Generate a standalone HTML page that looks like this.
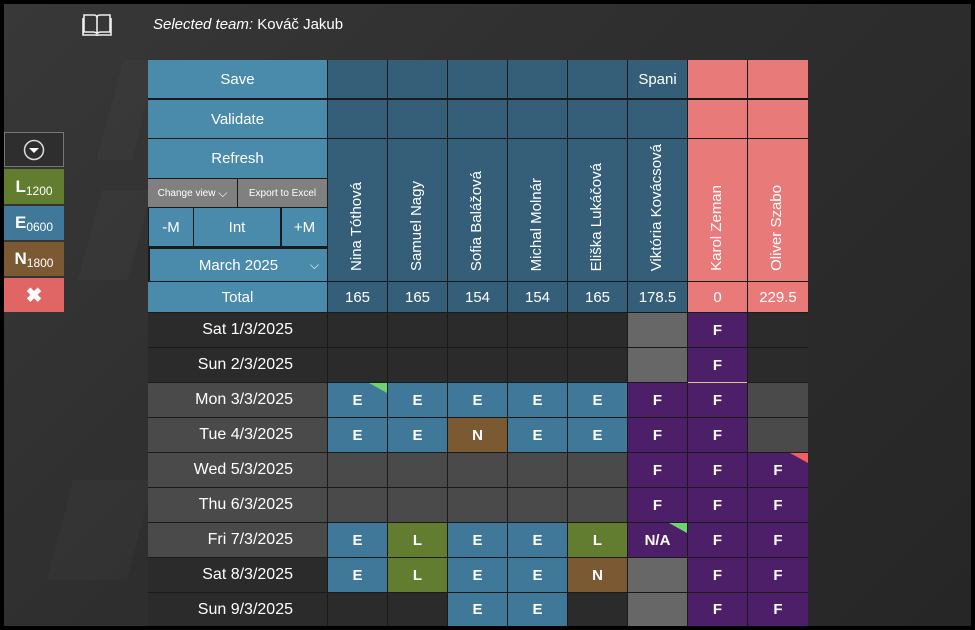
<!DOCTYPE html>
<html><head><meta charset="utf-8"><style>
body{margin:0;width:975px;height:630px;overflow:hidden;background:#000;font-family:"Segoe UI","Liberation Sans",sans-serif;}
#f{position:absolute;left:4px;top:4px;width:967px;height:622px;background:linear-gradient(135deg,#383838 0%,#2f2f2f 40%,#262626 100%);overflow:hidden}
.a{position:absolute;box-sizing:border-box;color:#fff;display:flex;align-items:center;justify-content:center;font-size:15px}
.lb{background:#4a8aab}.db{background:#355e79}.pk{background:#e97a7a}.pu{background:#4e1f69}
.E{background:#3f7898}.L{background:#627d2f}.N{background:#7b5933}.wk{background:#4a4a4a}.we{background:#2b2b2b}.gr{background:#676767}
.c{font-weight:bold;font-size:15px}
.nm{writing-mode:vertical-rl;transform:rotate(180deg);position:absolute;bottom:10px;left:50%;margin-left:-10px;font-size:15px;white-space:nowrap;color:#fff}
.d{justify-content:flex-end;padding-right:34px;font-size:16px}
.sh{position:absolute;background:rgba(255,255,255,0.025);transform:skewX(-15deg)}
</style></head><body><div id="f"></div>
<div class="sh" style="left:90px;top:190px;width:50px;height:90px"></div>
<div class="sh" style="left:60px;top:480px;width:80px;height:100px"></div>
<div class="sh" style="left:110px;top:60px;width:35px;height:100px"></div>
<div style="position:absolute;left:148px;top:60px;width:660px;height:566px;background:#1a1a1a"></div>
<!-- header -->
<svg style="position:absolute;left:82px;top:12px" width="30" height="25" viewBox="0 0 30 25"><path d="M2 3h10q3 0 3 3v16q-1-2-4-2H2zM28 3H18q-3 0-3 3v16q1-2 4-2h9z M1 6v17h12q2 0 2 1 0-1 2-1h12V6" fill="none" stroke="#eee" stroke-width="1.6"/></svg>
<div style="position:absolute;left:153px;top:16px;color:#fff;font-size:15px"><i>Selected team:</i> Kováč Jakub</div>
<!-- side panel -->
<div class="a" style="left:4px;top:132px;width:60px;height:35px;background:#2e2e2e;border:1px solid #777"><svg width="22" height="22"><circle cx="11" cy="11" r="9.5" fill="none" stroke="#ddd" stroke-width="1.5"/><path d="M6 9h10l-5 5z" fill="#fff"/></svg></div>
<div class="a L" style="left:4px;top:169px;width:60px;height:35px;font-weight:bold;font-size:17px">L<span style="font-weight:normal;font-size:12px;margin-top:8px">1200</span></div>
<div class="a E" style="left:4px;top:206px;width:60px;height:34px;font-weight:bold;font-size:17px">E<span style="font-weight:normal;font-size:12px;margin-top:8px">0600</span></div>
<div class="a N" style="left:4px;top:242px;width:60px;height:34px;font-weight:bold;font-size:17px">N<span style="font-weight:normal;font-size:12px;margin-top:8px">1800</span></div>
<div class="a" style="left:4px;top:278px;width:60px;height:34px;background:#e06666;font-weight:bold;font-size:20px">✖</div>
<!-- left col -->
<div class="a lb" style="left:148px;top:60px;width:179px;height:38px">Save</div>
<div class="a lb" style="left:148px;top:100px;width:179px;height:38px">Validate</div>
<div class="a lb" style="left:148px;top:139px;width:179px;height:39px">Refresh</div>
<div class="a" style="left:148px;top:179px;width:89px;height:28px;background:#808080;font-size:10px">Change view&nbsp;<span style="font-size:12px">⌵</span></div>
<div class="a" style="left:238px;top:179px;width:89px;height:28px;background:#808080;font-size:10px">Export to Excel</div>
<div class="a lb" style="left:149px;top:208px;width:44px;height:38px">-M</div>
<div class="a lb" style="left:194px;top:208px;width:86px;height:38px">Int</div>
<div class="a lb" style="left:282px;top:208px;width:45px;height:38px">+M</div>
<div class="a lb" style="left:150px;top:249px;width:177px;height:32px">March 2025<span style="position:absolute;right:8px;font-size:12px">⌵</span></div>
<div class="a lb" style="left:148px;top:282px;width:179px;height:30px">Total</div>
<!-- person headers -->
<div class="a db" style="left:328px;top:60px;width:59px;height:38px"></div><div class="a db" style="left:328px;top:100px;width:59px;height:38px"></div><div class="a db" style="left:328px;top:139px;width:59px;height:142px"><span class="nm">Nina Tóthová</span></div><div class="a db" style="left:328px;top:282px;width:59px;height:30px">165</div>
<div class="a db" style="left:388px;top:60px;width:59px;height:38px"></div><div class="a db" style="left:388px;top:100px;width:59px;height:38px"></div><div class="a db" style="left:388px;top:139px;width:59px;height:142px"><span class="nm">Samuel Nagy</span></div><div class="a db" style="left:388px;top:282px;width:59px;height:30px">165</div>
<div class="a db" style="left:448px;top:60px;width:59px;height:38px"></div><div class="a db" style="left:448px;top:100px;width:59px;height:38px"></div><div class="a db" style="left:448px;top:139px;width:59px;height:142px"><span class="nm">Sofia Balážová</span></div><div class="a db" style="left:448px;top:282px;width:59px;height:30px">154</div>
<div class="a db" style="left:508px;top:60px;width:59px;height:38px"></div><div class="a db" style="left:508px;top:100px;width:59px;height:38px"></div><div class="a db" style="left:508px;top:139px;width:59px;height:142px"><span class="nm">Michal Molnár</span></div><div class="a db" style="left:508px;top:282px;width:59px;height:30px">154</div>
<div class="a db" style="left:568px;top:60px;width:59px;height:38px"></div><div class="a db" style="left:568px;top:100px;width:59px;height:38px"></div><div class="a db" style="left:568px;top:139px;width:59px;height:142px"><span class="nm">Eliška Lukáčová</span></div><div class="a db" style="left:568px;top:282px;width:59px;height:30px">165</div>
<div class="a db" style="left:628px;top:60px;width:59px;height:38px">Spani</div><div class="a db" style="left:628px;top:100px;width:59px;height:38px"></div><div class="a db" style="left:628px;top:139px;width:59px;height:142px;overflow:hidden"><span class="nm" style="bottom:10px">Viktória Kovácsová</span></div><div class="a db" style="left:628px;top:282px;width:59px;height:30px">178.5</div>
<div class="a pk" style="left:688px;top:60px;width:59px;height:38px"></div><div class="a pk" style="left:688px;top:100px;width:59px;height:38px"></div><div class="a pk" style="left:688px;top:139px;width:59px;height:142px"><span class="nm">Karol Zeman</span></div><div class="a pk" style="left:688px;top:282px;width:59px;height:30px">0</div>
<div class="a pk" style="left:748px;top:60px;width:60px;height:38px"></div><div class="a pk" style="left:748px;top:100px;width:60px;height:38px"></div><div class="a pk" style="left:748px;top:139px;width:60px;height:142px"><span class="nm">Oliver Szabo</span></div><div class="a pk" style="left:748px;top:282px;width:60px;height:30px">229.5</div>
<!-- rows -->
<div class="a d we" style="left:148px;top:313px;width:179px;height:34px">Sat 1/3/2025</div>
<div class="a we" style="left:328px;top:313px;width:59px;height:34px"></div><div class="a we" style="left:388px;top:313px;width:59px;height:34px"></div><div class="a we" style="left:448px;top:313px;width:59px;height:34px"></div><div class="a we" style="left:508px;top:313px;width:59px;height:34px"></div><div class="a we" style="left:568px;top:313px;width:59px;height:34px"></div><div class="a gr" style="left:628px;top:313px;width:59px;height:34px"></div><div class="a pu c" style="left:688px;top:313px;width:59px;height:34px">F</div><div class="a we" style="left:748px;top:313px;width:60px;height:34px"></div>
<div class="a d we" style="left:148px;top:348px;width:179px;height:34px">Sun 2/3/2025</div>
<div class="a we" style="left:328px;top:348px;width:59px;height:34px"></div><div class="a we" style="left:388px;top:348px;width:59px;height:34px"></div><div class="a we" style="left:448px;top:348px;width:59px;height:34px"></div><div class="a we" style="left:508px;top:348px;width:59px;height:34px"></div><div class="a we" style="left:568px;top:348px;width:59px;height:34px"></div><div class="a gr" style="left:628px;top:348px;width:59px;height:34px"></div><div class="a pu c" style="left:688px;top:348px;width:59px;height:34px">F</div><div class="a we" style="left:748px;top:348px;width:60px;height:34px"></div>
<div style="position:absolute;left:688px;top:382px;width:59px;height:1px;background:#d8d070"></div>
<div class="a d wk" style="left:148px;top:383px;width:179px;height:34px">Mon 3/3/2025</div>
<div class="a E c" style="left:328px;top:383px;width:59px;height:34px">E<span style="position:absolute;right:0;top:0;width:0;height:0;border-top:10px solid #6fd36f;border-left:18px solid transparent"></span></div><div class="a E c" style="left:388px;top:383px;width:59px;height:34px">E</div><div class="a E c" style="left:448px;top:383px;width:59px;height:34px">E</div><div class="a E c" style="left:508px;top:383px;width:59px;height:34px">E</div><div class="a E c" style="left:568px;top:383px;width:59px;height:34px">E</div><div class="a pu c" style="left:628px;top:383px;width:59px;height:34px">F</div><div class="a pu c" style="left:688px;top:383px;width:59px;height:34px">F</div><div class="a wk" style="left:748px;top:383px;width:60px;height:34px"></div>
<div class="a d wk" style="left:148px;top:418px;width:179px;height:34px">Tue 4/3/2025</div>
<div class="a E c" style="left:328px;top:418px;width:59px;height:34px">E</div><div class="a E c" style="left:388px;top:418px;width:59px;height:34px">E</div><div class="a N c" style="left:448px;top:418px;width:59px;height:34px">N</div><div class="a E c" style="left:508px;top:418px;width:59px;height:34px">E</div><div class="a E c" style="left:568px;top:418px;width:59px;height:34px">E</div><div class="a pu c" style="left:628px;top:418px;width:59px;height:34px">F</div><div class="a pu c" style="left:688px;top:418px;width:59px;height:34px">F</div><div class="a wk" style="left:748px;top:418px;width:60px;height:34px"></div>
<div class="a d wk" style="left:148px;top:453px;width:179px;height:34px">Wed 5/3/2025</div>
<div class="a wk" style="left:328px;top:453px;width:59px;height:34px"></div><div class="a wk" style="left:388px;top:453px;width:59px;height:34px"></div><div class="a wk" style="left:448px;top:453px;width:59px;height:34px"></div><div class="a wk" style="left:508px;top:453px;width:59px;height:34px"></div><div class="a wk" style="left:568px;top:453px;width:59px;height:34px"></div><div class="a pu c" style="left:628px;top:453px;width:59px;height:34px">F</div><div class="a pu c" style="left:688px;top:453px;width:59px;height:34px">F</div><div class="a pu c" style="left:748px;top:453px;width:60px;height:34px">F<span style="position:absolute;right:0;top:0;width:0;height:0;border-top:10px solid #f06060;border-left:18px solid transparent"></span></div>
<div class="a d wk" style="left:148px;top:488px;width:179px;height:34px">Thu 6/3/2025</div>
<div class="a wk" style="left:328px;top:488px;width:59px;height:34px"></div><div class="a wk" style="left:388px;top:488px;width:59px;height:34px"></div><div class="a wk" style="left:448px;top:488px;width:59px;height:34px"></div><div class="a wk" style="left:508px;top:488px;width:59px;height:34px"></div><div class="a wk" style="left:568px;top:488px;width:59px;height:34px"></div><div class="a pu c" style="left:628px;top:488px;width:59px;height:34px">F</div><div class="a pu c" style="left:688px;top:488px;width:59px;height:34px">F</div><div class="a pu c" style="left:748px;top:488px;width:60px;height:34px">F</div>
<div class="a d wk" style="left:148px;top:523px;width:179px;height:34px">Fri 7/3/2025</div>
<div class="a E c" style="left:328px;top:523px;width:59px;height:34px">E</div><div class="a L c" style="left:388px;top:523px;width:59px;height:34px">L</div><div class="a E c" style="left:448px;top:523px;width:59px;height:34px">E</div><div class="a E c" style="left:508px;top:523px;width:59px;height:34px">E</div><div class="a L c" style="left:568px;top:523px;width:59px;height:34px">L</div><div class="a pu c" style="left:628px;top:523px;width:59px;height:34px">N/A<span style="position:absolute;right:0;top:0;width:0;height:0;border-top:10px solid #6fd36f;border-left:18px solid transparent"></span></div><div class="a pu c" style="left:688px;top:523px;width:59px;height:34px">F</div><div class="a pu c" style="left:748px;top:523px;width:60px;height:34px">F</div>
<div class="a d we" style="left:148px;top:558px;width:179px;height:34px">Sat 8/3/2025</div>
<div class="a E c" style="left:328px;top:558px;width:59px;height:34px">E</div><div class="a L c" style="left:388px;top:558px;width:59px;height:34px">L</div><div class="a E c" style="left:448px;top:558px;width:59px;height:34px">E</div><div class="a E c" style="left:508px;top:558px;width:59px;height:34px">E</div><div class="a N c" style="left:568px;top:558px;width:59px;height:34px">N</div><div class="a gr" style="left:628px;top:558px;width:59px;height:34px"></div><div class="a pu c" style="left:688px;top:558px;width:59px;height:34px">F</div><div class="a pu c" style="left:748px;top:558px;width:60px;height:34px">F</div>
<div class="a d we" style="left:148px;top:593px;width:179px;height:33px">Sun 9/3/2025</div>
<div class="a we" style="left:328px;top:593px;width:59px;height:33px"></div><div class="a we" style="left:388px;top:593px;width:59px;height:33px"></div><div class="a E c" style="left:448px;top:593px;width:59px;height:33px">E</div><div class="a E c" style="left:508px;top:593px;width:59px;height:33px">E</div><div class="a we" style="left:568px;top:593px;width:59px;height:33px"></div><div class="a gr" style="left:628px;top:593px;width:59px;height:33px"></div><div class="a pu c" style="left:688px;top:593px;width:59px;height:33px">F</div><div class="a pu c" style="left:748px;top:593px;width:60px;height:33px">F</div>
</body></html>
